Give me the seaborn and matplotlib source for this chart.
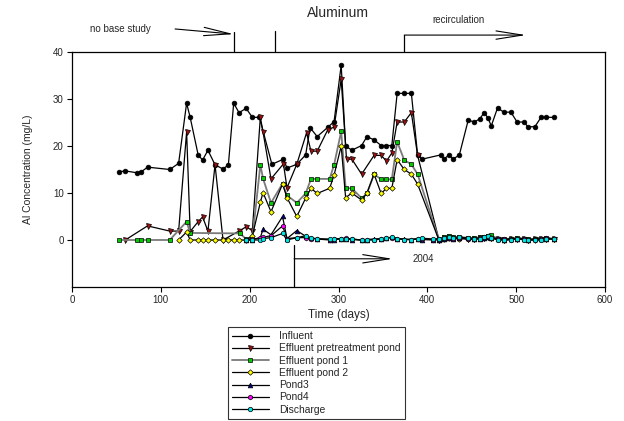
import matplotlib
matplotlib.use("Agg")
import matplotlib.pyplot as plt
import seaborn as sns
import pandas as pd

# ---------------- data ----------------
inf_days = [53, 60, 73, 78, 85, 110, 120, 129, 133, 142, 147, 153, 161, 170, 176,
            182, 188, 196, 203, 211, 225, 238, 242, 253, 263, 268, 276, 288, 295, 303,
            308, 315, 326, 332, 340, 348, 354, 360, 366, 374, 382, 389, 394, 415, 419,
            424, 429, 436, 446, 453, 459, 464, 468, 472, 479, 486, 494, 501, 509, 513,
            521, 528, 534, 543]
inf_vals = [14.5, 14.7, 14.3, 14.5, 15.5, 15.0, 16.3, 29.1, 26.1, 18.1, 17.0, 19.1, 16.0, 15.1, 16.0,
            29.1, 27.1, 28.0, 26.1, 26.1, 16.1, 17.2, 15.3, 16.1, 18.1, 23.9, 22.0, 24.0, 25.2, 37.2,
            20.0, 19.1, 20.1, 22.0, 21.3, 20.1, 20.1, 20.1, 31.2, 31.2, 31.2, 18.1, 17.2, 18.1, 17.2,
            18.1, 17.2, 18.1, 25.5, 25.1, 25.8, 27.1, 26.0, 24.3, 28.1, 27.2, 27.2, 25.1, 25.1, 24.1,
            24.1, 26.1, 26.1, 26.1]

tail_days = [413, 419, 424, 429, 436, 446, 453, 459, 464, 468, 472, 479, 486, 494, 501,
             509, 513, 521, 528, 534, 543]

pt_days = [60, 85, 110, 120, 129, 133, 142, 147, 153, 161, 170, 188, 196, 203, 212,
           215, 224, 238, 242, 253, 264, 269, 276, 288, 295, 303, 309, 315, 326, 340,
           348, 354, 360, 366, 374, 382, 389]
pt_vals = [0.0, 3.0, 1.9, 1.9, 23.0, 1.8, 3.9, 4.9, 1.9, 16.0, 0.0, 1.9, 2.8, 2.0, 26.1,
           23.0, 13.0, 16.2, 11.1, 16.1, 22.8, 18.9, 18.9, 23.5, 24.0, 34.2, 17.2, 17.2, 14.0, 18.0,
           18.0, 16.8, 18.5, 25.1, 25.1, 27.1, 18.0]
pt_tail = [0.1, 0.4, 0.6, 0.5, 0.4, 0.3, 0.2, 0.4, 0.5, 0.6, 0.4, 0.2, 0.1, 0.2, 0.3,
           0.2, 0.1, 0.2, 0.3, 0.2, 0.3]

p1_days = [53, 73, 78, 85, 110, 129, 133, 189, 196, 203, 212, 215, 224, 237, 242,
           253, 263, 269, 276, 290, 295, 303, 308, 315, 326, 332, 340, 348, 354, 360,
           366, 374, 382, 389]
p1_vals = [0.0, 0.0, 0.0, 0.0, 0.0, 3.9, 1.5, 1.4, 0.2, 0.3, 16.0, 13.1, 7.9, 12.0, 9.5,
           7.9, 9.9, 13.0, 13.0, 13.0, 16.0, 23.1, 11.0, 11.0, 8.9, 9.9, 14.0, 12.9, 12.9, 12.9,
           20.9, 17.0, 16.1, 14.0]
p1_tail = [0.1, 0.6, 0.9, 0.7, 0.6, 0.5, 0.4, 0.6, 0.7, 0.9, 1.0, 0.3, 0.2, 0.3, 0.5,
           0.3, 0.2, 0.2, 0.3, 0.4, 0.3]

p2_days = [120, 129, 133, 142, 147, 153, 161, 170, 176, 182, 188, 196, 203, 212, 215,
           224, 237, 242, 253, 263, 269, 276, 290, 295, 303, 308, 315, 326, 332, 340,
           348, 354, 360, 366, 374, 382, 389]
p2_vals = [0.0, 1.7, 0.0, 0.0, 0.0, 0.0, 0.0, 0.0, 0.0, 0.0, 0.0, 0.0, 0.9, 8.0, 10.1,
           6.0, 11.9, 9.0, 5.0, 8.9, 11.0, 9.9, 11.0, 13.8, 20.0, 9.0, 10.0, 8.5, 10.0, 14.0,
           9.9, 11.0, 11.0, 17.1, 15.0, 14.0, 11.9]
p2_tail = [0.0, 0.3, 0.5, 0.4, 0.3, 0.2, 0.3, 0.4, 0.5, 0.6, 0.5, 0.2, 0.1, 0.2, 0.3,
           0.2, 0.1, 0.1, 0.2, 0.3, 0.2]

low_days = [196, 203, 212, 215, 224, 237, 242, 253, 263, 269, 276, 290, 295, 303, 308,
            315, 326, 332, 340, 348, 354, 360, 366, 374, 382, 389, 394, 406, 413, 419,
            424, 429, 436, 446, 453, 459, 464, 468, 472, 479, 486, 494, 501, 509, 513,
            521, 528, 534, 543]
pond3_vals = [0.0, 0.1, 0.5, 2.3, 1.1, 5.0, 0.3, 2.0, 0.8, 0.5, 0.2, 0.0, 0.1, 0.3, 0.2,
              0.1, 0.0, 0.1, 0.2, 0.3, 0.4, 0.6, 0.3, 0.2, 0.1, 0.2, 0.1, 0.0, 0.1, 0.3,
              0.4, 0.3, 0.5, 0.4, 0.3, 0.2, 0.5, 0.6, 0.4, 0.2, 0.1, 0.2, 0.3, 0.2, 0.1,
              0.2, 0.2, 0.3, 0.2]
pond4_vals = [0.0, 0.2, 0.4, 0.6, 0.9, 3.0, 0.3, 0.5, 0.5, 0.3, 0.3, 0.1, 0.2, 0.3, 0.4,
              0.2, 0.0, 0.1, 0.1, 0.2, 0.4, 0.5, 0.3, 0.1, 0.1, 0.2, 0.3, 0.1, 0.2, 0.4,
              0.5, 0.3, 0.4, 0.2, 0.3, 0.4, 0.6, 0.8, 0.5, 0.3, 0.2, 0.1, 0.3, 0.2, 0.0,
              0.1, 0.3, 0.4, 0.2]
dis_vals = [0.0, 0.0, 0.0, 0.3, 0.5, 1.4, 0.0, 0.5, 0.9, 0.4, 0.2, 0.2, 0.2, 0.2, 0.3,
            0.2, 0.0, 0.0, 0.0, 0.2, 0.4, 0.6, 0.3, 0.1, 0.1, 0.3, 0.4, 0.2, 0.3, 0.5,
            0.6, 0.5, 0.6, 0.4, 0.3, 0.3, 0.6, 0.8, 0.5, 0.0, 0.0, 0.0, 0.3, 0.0, 0.0,
            0.0, 0.0, 0.3, 0.3]

series_names = ["Influent", "Effluent pretreatment pond", "Effluent pond 1",
                "Effluent pond 2", "Pond3", "Pond4", "Discharge"]

# event markers (days)
no_base_end = 182
second_mark = 228
recirc_start = 374
recirc_arrow_end = 511
year2004_start = 250
year2004_arrow_end = 361

# ---------------- styling ----------------
sns.set_style("ticks")
plt.rcParams["font.family"] = ["Liberation Sans", "DejaVu Sans"]

fig, ax = plt.subplots(figsize=(6.24, 4.21), dpi=100)
fig.subplots_adjust(left=0.1154, right=0.9696, top=0.8765, bottom=0.3183)

data = [
    (inf_days, inf_vals),
    (pt_days + tail_days, pt_vals + pt_tail),
    (p1_days + tail_days, p1_vals + p1_tail),
    (p2_days + tail_days, p2_vals + p2_tail),
    (low_days, pond3_vals),
    (low_days, pond4_vals),
    (low_days, dis_vals),
]
markers = ["o", "v", "s", "D", "^", "h", "o"]
face = ["#000000", "#a01010", "#00cc00", "#ffff00", "#000080", "#ff00ff", "#00e5e5"]
linec = ["black", "black", "#7a7a7a", "black", "black", "black", "black"]
lws = [0.9, 0.9, 1.3, 0.9, 0.9, 0.9, 0.9]
msz = [3.4, 3.6, 3.1, 2.8, 3.4, 3.4, 3.2]

for (d, v), name, m, fc, lc, lw, ms in zip(data, series_names, markers, face, linec, lws, msz):
    df = pd.DataFrame({"day": d, "al": v})
    sns.lineplot(data=df, x="day", y="al", ax=ax, estimator=None, sort=False,
                 color=lc, lw=lw, marker=m, markersize=ms, markerfacecolor=fc,
                 markeredgecolor="black", markeredgewidth=0.5, label=name)

handles, labels = ax.get_legend_handles_labels()
if ax.get_legend() is not None:
    ax.get_legend().remove()

ax.set_xlim(0, 600)
ax.set_ylim(-10, 40)
ax.set_xticks(range(0, 601, 100))
ax.set_yticks(range(0, 41, 10))
ax.tick_params(axis="both", labelsize=7, length=3.5, width=0.8, color="black", pad=2.5)
for s in ax.spines.values():
    s.set_visible(True)
    s.set_color("black")
    s.set_linewidth(0.9)

ax.set_xlabel("Time (days)", fontsize=8.5, labelpad=3)
ax.set_ylabel("Al Concentration (mg/L)", fontsize=7.5, labelpad=14)
fig.text(0.542, 0.968, "Aluminum", ha="center", va="center", fontsize=10)

# annotations
lkw = dict(color="black", lw=0.9, clip_on=False)
arrow = dict(arrowstyle="->,head_length=1.9,head_width=0.3", lw=0.8, color="black",
             shrinkA=0, shrinkB=0)
ax.plot([no_base_end, no_base_end], [40, 44.3], **lkw)
ax.plot([second_mark, second_mark], [40, 44.5], **lkw)
ax.annotate("", xy=(no_base_end, 43.8), xytext=(116, 44.9), arrowprops=arrow,
            annotation_clip=False)
ax.text(55, 44.9, "no base study", ha="center", va="center", fontsize=7)

ax.plot([recirc_start, recirc_start], [40, 43.6], **lkw)
ax.annotate("", xy=(recirc_arrow_end, 43.6), xytext=(recirc_start, 43.6),
            arrowprops=arrow, annotation_clip=False)
ax.text(435, 46.8, "recirculation", ha="center", va="center", fontsize=7)

ax.plot([year2004_start, year2004_start], [-10, -1.1], color="black", lw=0.9)
ax.annotate("", xy=(year2004_arrow_end, -4), xytext=(year2004_start, -4),
            arrowprops=arrow, annotation_clip=False)
ax.text(396, -4, "2004", ha="center", va="center", fontsize=7)

leg = fig.legend(handles, labels, loc="upper left", bbox_to_anchor=(0.365, 0.2233),
                 borderaxespad=0, fontsize=7.4, frameon=True, fancybox=False,
                 edgecolor="black", handlelength=3.6, labelspacing=0.22,
                 borderpad=0.4, handletextpad=1.0)
leg.get_frame().set_linewidth(0.8)

fig.savefig("out.png", dpi=100)
